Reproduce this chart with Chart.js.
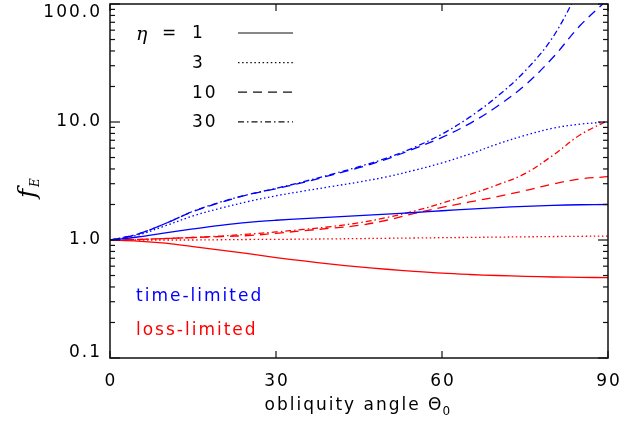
<!DOCTYPE html>
<html>
<head>
<meta charset="utf-8">
<script src="https://cdn.jsdelivr.net/npm/chart.js@4.4.1/dist/chart.umd.min.js"></script>
<style>
  html, body { margin: 0; padding: 0; background: #fff; }
  #wrap { width: 635px; height: 426px; }
</style>
</head>
<body>
<div id="wrap"><canvas id="fE"></canvas></div>
<script>
// obliquity angle (deg)
var angles = [0, 5, 10, 15, 20, 25, 30, 35, 40, 45, 50, 55, 60, 65, 70, 75, 80, 85, 90];

// time-limited, eta = 1, 3, 10, 30
var timeEta1  = [1.0, 1.06, 1.15, 1.24, 1.33, 1.41, 1.47, 1.52, 1.565, 1.61, 1.66, 1.71, 1.77, 1.83, 1.88, 1.93, 1.965, 1.99, 2.0];
var timeEta3  = [1.0, 1.1, 1.32, 1.6, 1.86, 2.12, 2.37, 2.6, 2.84, 3.1, 3.43, 3.9, 4.5, 5.35, 6.5, 7.7, 8.85, 9.6, 10.0];
var timeEta10 = [1.0, 1.12, 1.38, 1.74, 2.08, 2.42, 2.72, 3.08, 3.55, 4.1, 4.85, 5.95, 7.4, 9.7, 13.6, 20.5, 35.0, 66.0, 110.0];
var timeEta30 = [1.0, 1.12, 1.38, 1.75, 2.1, 2.43, 2.74, 3.12, 3.6, 4.18, 4.95, 6.1, 7.9, 11.0, 16.5, 27.0, 52.0, 140.0, 400.0];

// loss-limited, eta = 1, 3, 10, 30
var lossEta1  = [1.0, 0.98, 0.94, 0.88, 0.82, 0.765, 0.71, 0.665, 0.625, 0.592, 0.565, 0.542, 0.523, 0.51, 0.50, 0.492, 0.486, 0.482, 0.48];
var lossEta3  = [1.0, 1.0, 1.0, 1.0, 1.005, 1.01, 1.012, 1.017, 1.022, 1.028, 1.034, 1.04, 1.046, 1.052, 1.058, 1.064, 1.07, 1.075, 1.08];
var lossEta10 = [1.0, 1.01, 1.03, 1.05, 1.07, 1.09, 1.14, 1.2, 1.26, 1.33, 1.47, 1.68, 1.89, 2.1, 2.33, 2.62, 2.98, 3.29, 3.44];
var lossEta30 = [1.0, 1.01, 1.03, 1.05, 1.08, 1.12, 1.17, 1.23, 1.3, 1.4, 1.55, 1.76, 2.05, 2.43, 2.93, 3.65, 5.2, 7.8, 10.3];

var etaValues = ['1', '3', '10', '30'];
var xTicks = [0, 30, 60, 90];
var yTicks = [0.1, 1, 10, 100];
var yTickLabels = ['0.1', '1.0', '10.0', '100.0'];

var BLUE = '#0000ff', RED = '#ff0000';
var dashes = [[], [1.5, 2.6], [9, 6], [6, 3, 1.5, 3]];
var FONT = '17px "DejaVu Sans"';

function pts(ys) {
  return ys.map(function (y, i) { return { x: angles[i], y: y }; });
}

function series(ys, color, k) {
  return {
    data: pts(ys),
    borderColor: color,
    borderWidth: 1.3,
    borderDash: dashes[k],
    pointRadius: 0,
    fill: false,
    tension: 0.35
  };
}

var datasets = [
  series(timeEta1, BLUE, 0), series(timeEta3, BLUE, 1),
  series(timeEta10, BLUE, 2), series(timeEta30, BLUE, 3),
  series(lossEta1, RED, 0), series(lossEta3, RED, 1),
  series(lossEta10, RED, 2), series(lossEta30, RED, 3)
];

function seg(ctx, x1, y1, x2, y2) {
  ctx.beginPath(); ctx.moveTo(x1, y1); ctx.lineTo(x2, y2); ctx.stroke();
}

// box frame, inward ticks, labels, legend
var frame = {
  id: 'frame',
  afterDraw: function (chart) {
    var ctx = chart.ctx, a = chart.chartArea;
    var xs = chart.scales.x, ys = chart.scales.y;
    ctx.save();
    ctx.strokeStyle = '#111';
    ctx.lineWidth = 1.5;
    ctx.setLineDash([]);
    ctx.strokeRect(a.left, a.top, a.right - a.left, a.bottom - a.top);

    ctx.lineWidth = 1.2;
    xTicks.forEach(function (v) {
      var px = xs.getPixelForValue(v);
      seg(ctx, px, a.bottom, px, a.bottom - 7);
      seg(ctx, px, a.top, px, a.top + 7);
    });
    [0.1, 1, 10].forEach(function (d) {
      for (var m = 1; m <= 9; m++) {
        var py = ys.getPixelForValue(d * m);
        var len = m === 1 ? 10 : 5;
        seg(ctx, a.left, py, a.left + len, py);
        seg(ctx, a.right, py, a.right - len, py);
      }
    });
    var p100 = ys.getPixelForValue(100);
    seg(ctx, a.left, p100, a.left + 10, p100);
    seg(ctx, a.right, p100, a.right - 10, p100);

    ctx.fillStyle = '#000';
    ctx.font = FONT;
    ctx.letterSpacing = '2px';
    ctx.textBaseline = 'middle';

    ctx.textAlign = 'right';
    yTicks.forEach(function (v, i) {
      var py = ys.getPixelForValue(v);
      py = Math.min(Math.max(py, a.top + 9), a.bottom - 5);
      ctx.fillText(yTickLabels[i], a.left - 8, py);
    });

    ctx.textAlign = 'center';
    xTicks.forEach(function (v) {
      ctx.fillText(String(v), xs.getPixelForValue(v) + 1, a.bottom + 24);
    });

    // x title
    ctx.textAlign = 'left';
    var t1 = 'obliquity angle \u0398';
    var w1 = ctx.measureText(t1).width;
    var cx = (a.left + a.right) / 2;
    var x0 = cx - (w1 + 10) / 2;
    ctx.fillText(t1, x0, 406);
    ctx.font = '12px "DejaVu Sans"';
    ctx.letterSpacing = '0px';
    ctx.fillText('0', x0 + w1 - 1, 412);

    // y title f_E
    ctx.save();
    ctx.translate(28, 186);
    ctx.rotate(-Math.PI / 2);
    ctx.font = 'italic 25px "DejaVu Serif"';
    ctx.textAlign = 'left';
    ctx.fillText('f', -12, 0);
    ctx.font = 'italic 12px "DejaVu Serif"';
    ctx.fillText('E', -1, 8);
    ctx.restore();

    // legend
    ctx.letterSpacing = '2px';
    ctx.textAlign = 'left';
    ctx.font = 'italic 19px "DejaVu Serif"';
    ctx.fillText('\u03b7', 136, 35);
    ctx.font = FONT;
    ctx.fillText('=', 162, 34);
    etaValues.forEach(function (e, i) {
      var py = 33 + i * 29.6;
      ctx.fillText(e, 192, py + 1);
      ctx.setLineDash(dashes[i]);
      ctx.lineWidth = 1.2;
      seg(ctx, 238, py, 293, py);
    });
    ctx.setLineDash([]);

    ctx.fillStyle = BLUE;
    ctx.fillText('time-limited', 136, 297);
    ctx.fillStyle = RED;
    ctx.fillText('loss-limited', 136, 331);
    ctx.restore();
  }
};

new Chart(document.getElementById('fE').getContext('2d'), {
  type: 'line',
  data: { datasets: datasets },
  options: {
    responsive: true,
    maintainAspectRatio: false,
    animation: false,
    layout: { padding: { left: 110, right: 27, top: 4, bottom: 68 } },
    plugins: { legend: { display: false }, tooltip: { enabled: false } },
    scales: {
      x: { type: 'linear', min: 0, max: 90, display: false },
      y: { type: 'logarithmic', min: 0.1, max: 100, display: false }
    }
  },
  plugins: [frame]
});
</script>
</body>
</html>
